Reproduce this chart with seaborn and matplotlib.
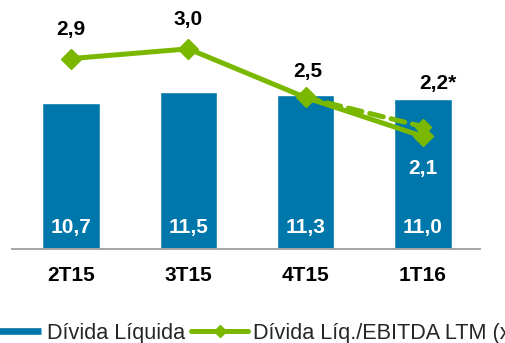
import numpy as np
import matplotlib
matplotlib.use("Agg")
import matplotlib.pyplot as plt
from matplotlib.lines import Line2D
import seaborn as sns

# Quarterly net debt (R$ bi) and leverage ratio
quarters = ["2T15", "3T15", "4T15", "1T16"]
divida_liquida = [10.7, 11.5, 11.3, 11.0]
alavancagem = [2.9, 3.0, 2.5, 2.1]
# pro-forma leverage for the last quarter (dashed segment)
alavancagem_ajustada_q = ["4T15", "1T16"]
alavancagem_ajustada = [2.5, 2.2]

BLUE = "#0077AA"
GREEN = "#7AB800"
GRAY = "#A6A6A6"

sns.set_theme(style="white")
plt.rcParams["font.family"] = ["Liberation Sans", "DejaVu Sans"]

W, H, DPI = 505, 343, 100
fig = plt.figure(figsize=(W / DPI, H / DPI), dpi=DPI)
ax = fig.add_axes([12 / W, (H - 249) / H, (480 - 12) / W, 249 / H])

sns.barplot(x=quarters, y=divida_liquida, color=BLUE, width=0.49,
            saturation=1, ax=ax)
ax.set_xlim(-0.503, 3.486)
ax.set_ylim(0, 18.28)

for i, v in enumerate(divida_liquida):
    ax.annotate(f"{v:.1f}".replace(".", ","), xy=(i, 0), xytext=(0, 22 * 0.72),
                textcoords="offset points", ha="center", va="center",
                color="white", fontsize=15, fontweight="bold")

for s in ["top", "left", "right"]:
    ax.spines[s].set_visible(False)
ax.spines["bottom"].set_color(GRAY)
ax.spines["bottom"].set_linewidth(1.4)
ax.set_yticks([])
ax.tick_params(axis="x", length=0, pad=12.5, labelsize=15)
for lbl in ax.get_xticklabels():
    lbl.set_fontweight("bold")
    lbl.set_color("black")
ax.set_xlabel("")
ax.set_ylabel("")

# Leverage on a secondary axis
ax2 = ax.twinx()
ax2.set_ylim(0.943, 3.502)
ax2.set_yticks([])
for s in ax2.spines.values():
    s.set_visible(False)

xpos = np.arange(len(quarters))
adj_pos = [quarters.index(q) for q in alavancagem_ajustada_q]
ax2.plot(adj_pos, alavancagem_ajustada, color=GREEN, lw=3.6,
         linestyle=(0, (2.8, 1.6)), dash_capstyle="round", marker="D",
         markersize=8.5, zorder=3)
ax2.plot(xpos, alavancagem, color=GREEN, lw=3.6, marker="D",
         markersize=10.5, zorder=4)

px = 0.72
offsets = [(0, 28.6), (0, 29.3), (2, 25.5)]
for i in range(3):
    dx, dy = offsets[i]
    ax2.annotate(f"{alavancagem[i]:.1f}".replace(".", ","), xy=(i, alavancagem[i]),
                 xytext=(dx * px, dy * px), textcoords="offset points",
                 ha="center", va="center", fontsize=15, fontweight="bold",
                 color="black")
ax2.annotate(f"{alavancagem_ajustada[-1]:.1f}".replace(".", ",") + "*",
             xy=(adj_pos[-1], alavancagem_ajustada[-1]),
             xytext=(14.5 * px, 42.7 * px), textcoords="offset points",
             ha="center", va="center", fontsize=15, fontweight="bold",
             color="black")
ax2.annotate(f"{alavancagem[-1]:.1f}".replace(".", ","), xy=(3, alavancagem[-1]),
             xytext=(0, -31.6 * px), textcoords="offset points",
             ha="center", va="center", fontsize=15, fontweight="bold",
             color="white")

handles = [
    Line2D([], [], color=BLUE, lw=4.8, solid_capstyle="butt"),
    Line2D([], [], color=GREEN, lw=3.6, marker="D", markersize=6,
           solid_capstyle="round"),
]
fig.legend(handles, ["Dívida Líquida", "Dívida Líq./EBITDA LTM (x)"],
           loc="center left", bbox_to_anchor=(-15 / W, 10 / H), ncol=2,
           frameon=False, fontsize=15.6, handlelength=2.6, handletextpad=0.25,
           columnspacing=0.3, borderpad=0, borderaxespad=0)

fig.savefig("out.png", dpi=DPI)
